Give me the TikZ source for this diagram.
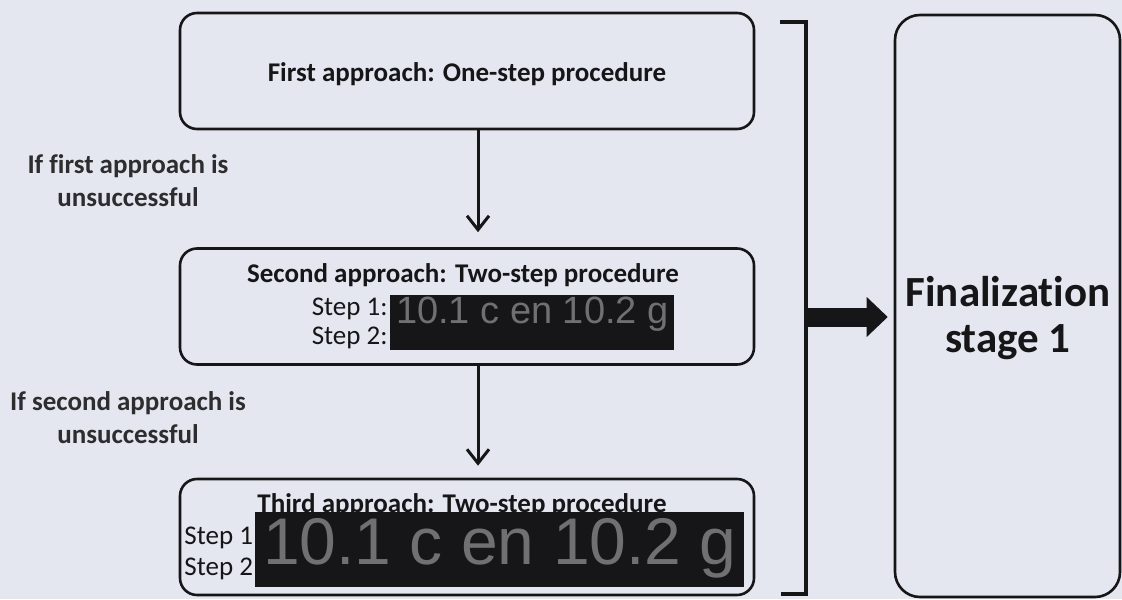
\documentclass[tikz,border=0pt]{standalone}
\usepackage{fontspec}
\setmainfont{Carlito}[Ligatures=NoCommon]
\newfontfamily\redactfont{Liberation Sans}
\usepackage{xcolor}
\usetikzlibrary{arrows.meta,positioning}
\definecolor{scanbg}{RGB}{229,231,240}
\definecolor{inkblack}{RGB}{22,22,24}
\definecolor{redgray}{RGB}{112,112,114}

\begin{document}
\begin{tikzpicture}[x=0.5pt,y=-0.5pt,
  box/.style={draw=inkblack,line width=1.3pt,rounded corners=8.5pt,minimum width=287pt,minimum height=58pt,inner sep=0pt},
  ttl/.style={font=\bfseries\fontsize{13.5}{16}\selectfont,text=inkblack,inner sep=0pt},
  stp/.style={align=left,text=inkblack,inner sep=0pt},
  lbl/.style={font=\bfseries\fontsize{13.5}{16.5}\selectfont,align=center,text=inkblack!90,inner sep=0pt},
  redact/.style={fill=inkblack,text=redgray,inner sep=0pt,anchor=north west},
  flow/.style={line width=1.5pt,draw=inkblack,-{Straight Barb[length=7pt,width=11pt]}}]
\fill[scanbg] (0,0) rectangle (1122,599);
\useasboundingbox (0,0) rectangle (1122,599);
% approaches
\node[box] (b1) at (467,71) {};
\node[ttl,anchor=base] (t1) at (467,82) {First approach: One-step procedure};
\node[box] (b2) at (467,306.5) {};
\node[ttl,anchor=base] (t2) at (463,282) {Second approach: Two-step procedure};
\node[stp,anchor=east,font=\fontsize{13.5}{14.5}\selectfont] (s2) at (388,323) {Step 1:\\Step 2:};
\node[redact,minimum width=142pt,text height=14pt,text depth=13.5pt,font=\redactfont\fontsize{19}{19}\selectfont] (r2) at (390,295) {10.1 c en 10.2 g};
\node[box] (b3) at (467,537) {};
\node[ttl,anchor=base] (t3) at (462,512) {Third approach: Two-step procedure};
\node[stp,anchor=west,font=\fontsize{13.5}{15.5}\selectfont] (s3) at (184,553) {Step 1\\Step 2};
\node[redact,minimum width=244.5pt,text height=26pt,text depth=11.5pt,font=\redactfont\fontsize{33}{33}\selectfont] (r3) at (255,512) {10.1 c en 10.2 g};
% conditions
\node[lbl] (c1) at (128,181) {If first approach is\\unsuccessful};
\node[lbl] (c2) at (128,418) {If second approach is\\unsuccessful};
\draw[flow,shorten >=7.5pt] ([xshift=5.5pt]b1.south) -- ([xshift=5.5pt]b2.north);
\draw[flow,shorten >=6pt] ([xshift=5.5pt]b2.south) -- ([xshift=5.5pt]b3.north);
% final stage
\node[draw=inkblack,line width=1.3pt,rounded corners=12.5pt,minimum width=112.5pt,minimum height=291pt] (fin) at (1007.5,306) {};
\node[font=\bfseries\fontsize{21.5}{23}\selectfont,align=center,text=inkblack,inner sep=0pt] (fint) at (1008,318.5) {Finalization\\stage 1};
\draw[inkblack,line width=1.7pt] (780,22) -- (806,22) -- (806,594) -- (781,594);
\coordinate (brk) at (806,317);
\draw[inkblack,line width=9.5pt,shorten >=3pt,-{Triangle[length=10.5pt,width=20pt,line width=0pt]}] (brk) -- (fin.west |- brk);
\end{tikzpicture}
\end{document}
